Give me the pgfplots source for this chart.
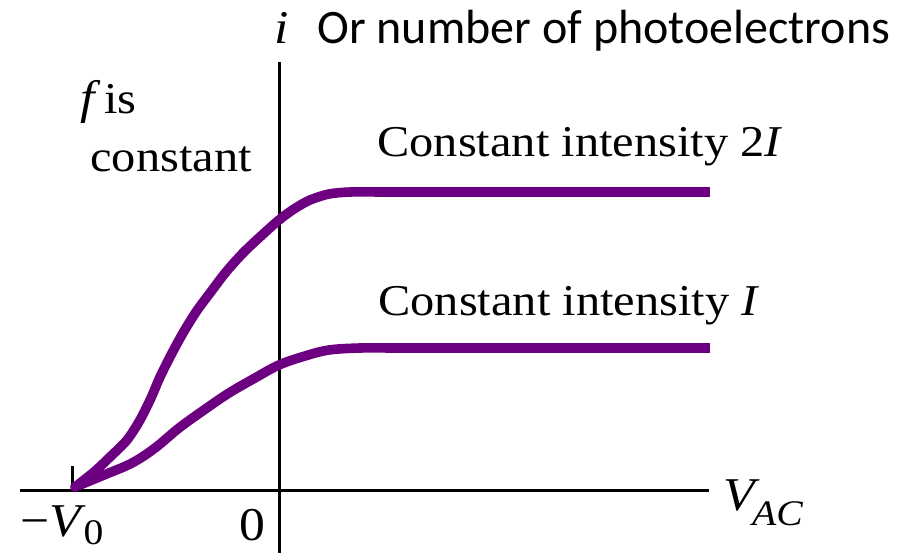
\documentclass[border=0pt]{standalone}
\usepackage{fontspec}
\setmainfont{Liberation Serif}
\newfontfamily\labelsans{Carlito}
\usepackage{graphicx}
\usepackage{pgfplots}
\pgfplotsset{compat=1.18}

\definecolor{curvepurple}{RGB}{108,0,128}
% text labels are set slightly widened
\newcommand\wide[1]{\scalebox{1.10}[1]{#1}}
\newcommand\mwide[1]{\scalebox{1.1}[1]{#1}}
\newcommand\lab{\fontsize{22}{25}\selectfont}
\newcommand\mlab{\fontsize{23.5}{27}\selectfont}
\newcommand\slab{\fontsize{18}{21}\selectfont}

\begin{document}
\begin{tikzpicture}
\begin{axis}[
  scale only axis,
  width=454.5pt, height=276pt,
  xmin=-279, xmax=630, ymin=-62, ymax=490,
  hide axis,
  clip=false,
]
\coordinate (frameSW) at (rel axis cs:0,0);
\coordinate (frameNE) at (rel axis cs:1,1);
% coordinate axes
\draw[line width=1.5pt] (axis cs:-259,0) -- (axis cs:430,0);
\draw[line width=1.5pt] (axis cs:0,428) -- (axis cs:0,-70);
\draw[line width=1.5pt] (axis cs:-207,0) -- (axis cs:-207,24);

% photocurrent, intensity 2I
\addplot[curvepurple, line width=4.8pt, smooth, tension=0.5, line cap=round] coordinates {
  (-204,3) (-185,18) (-169,33) (-152,50) (-139,70) (-128,92) (-119,113)
  (-108,135) (-96,157) (-83,178) (-69,197) (-53,218) (-36,237) (-18,254)
  (0,270) (15,281) (31,290) (50,296) (71,298) (100,298)
};
\addplot[curvepurple, line width=4.8pt] coordinates {(100,298) (431,298)};

% photocurrent, intensity I
\addplot[curvepurple, line width=4.8pt, smooth, tension=0.6, line cap=round] coordinates {
  (-204,3) (-175,15) (-147,27) (-124,42) (-100,62) (-75,80)
  (-50,97) (-24,112) (0,125) (26,134) (50,140) (81,142) (110,142)
};
\addplot[curvepurple, line width=4.8pt] coordinates {(110,142) (431,142)};

% labels
\node[anchor=base west, inner sep=0pt] at (axis cs:-199,376)
  {\mwide{\mlab\textit{f}}\,\wide{\lab is}};
\node[anchor=base west, inner sep=0pt] at (axis cs:-189,318) {\lab\wide{constant}};
\node[anchor=base west, inner sep=0pt] at (axis cs:98,333) {\lab\wide{Constant intensity 2\textit{I}}};
\node[anchor=base west, inner sep=0pt] at (axis cs:99,174) {\lab\wide{Constant intensity \textit{I}}};
\node[anchor=base west, inner sep=0pt] at (axis cs:444,-20)
  {\mwide{\mlab\textit{V}\kern-0.15em\raisebox{-0.32em}{\slab\textit{AC}}}};
\node[anchor=base west, inner sep=0pt] at (axis cs:-259,-46)
  {\mwide{\mlab−\textit{V}\kern-0.05em\raisebox{-0.18em}{\slab 0}}};
\node[anchor=base west, inner sep=0pt] at (axis cs:-40,-50) {\mlab\mwide{0}};
\node[anchor=base west, inner sep=0pt] at (axis cs:-5,446) {\mlab\mwide{\textit{i}}};
\node[anchor=base west, inner sep=0pt] at (axis cs:38,446)
  {\labelsans\fontsize{24}{28}\selectfont Or number of photoelectrons};
\end{axis}
\pgfresetboundingbox
\path[use as bounding box] (frameSW) rectangle (frameNE);
\end{tikzpicture}
\end{document}
